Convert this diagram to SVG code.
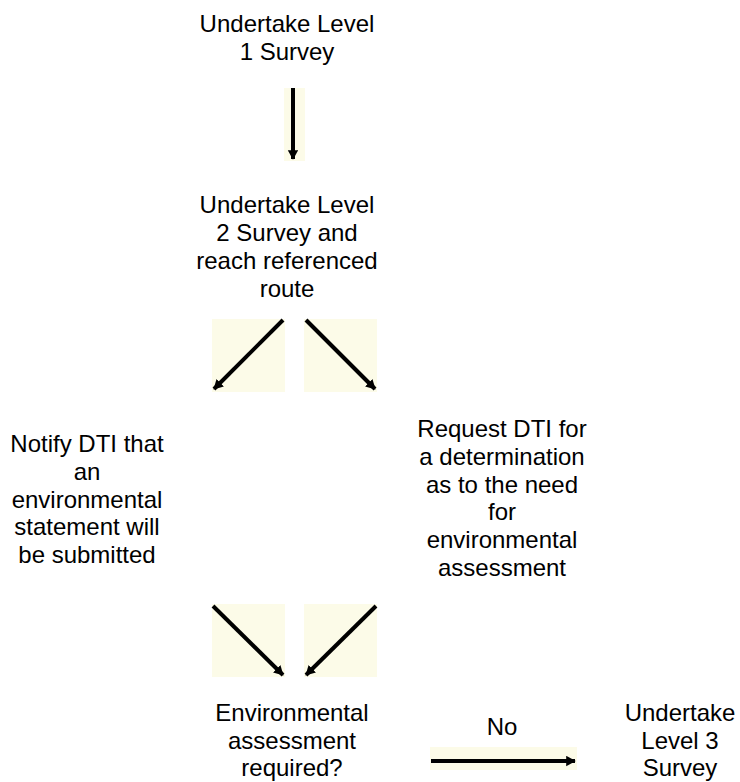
<svg xmlns="http://www.w3.org/2000/svg" width="740" height="782" viewBox="0 0 740 782">
<style>
text{font-family:"Liberation Sans",Arial,sans-serif;font-size:24px;fill:#000;text-anchor:middle}
.bg{fill:#fcfbe8}
.ar{stroke:#000;stroke-width:4;fill:none;marker-end:url(#ah)}
</style>
<defs>
<marker id="ah" markerWidth="3" markerHeight="3" refX="2.2" refY="1.3" orient="auto" markerUnits="strokeWidth">
<path d="M0,0 L2.4,1.3 L0,2.6 Z" fill="#000"/>
</marker>
</defs>
<rect width="740" height="782" fill="#fff"/>
<g id="n1"><text x="287" y="32">Undertake Level</text><text x="287" y="60">1 Survey</text></g>
<g id="n2"><text x="287" y="213">Undertake Level</text><text x="287" y="241">2 Survey and</text><text x="287" y="269">reach referenced</text><text x="287" y="297">route</text></g>
<g id="n3"><text x="87" y="452">Notify DTI that</text><text x="87" y="480">an</text><text x="87" y="508">environmental</text><text x="87" y="535">statement will</text><text x="87" y="563">be submitted</text></g>
<g id="n4"><text x="502" y="437">Request DTI for</text><text x="502" y="465">a determination</text><text x="502" y="493">as to the need</text><text x="502" y="520">for</text><text x="502" y="548">environmental</text><text x="502" y="576">assessment</text></g>
<g id="n5"><text x="292" y="721">Environmental</text><text x="292" y="748.5">assessment</text><text x="292" y="776">required?</text></g>
<g id="n6"><text x="680" y="721">Undertake</text><text x="680" y="748.5">Level 3</text><text x="680" y="776">Survey</text></g>
<g id="lbl"><text x="502" y="735">No</text></g>
<g id="connectors">
<rect class="bg" x="284" y="88" width="21" height="73"/>
<line class="ar" x1="293" y1="88" x2="293" y2="159"/>
<rect class="bg" x="212" y="319" width="73" height="73"/>
<line class="ar" x1="283" y1="320" x2="214" y2="389"/>
<rect class="bg" x="304" y="319" width="73" height="73"/>
<line class="ar" x1="306" y1="320" x2="375" y2="389"/>
<rect class="bg" x="212" y="604" width="73" height="73"/>
<line class="ar" x1="213" y1="606" x2="283" y2="675"/>
<rect class="bg" x="304" y="604" width="73" height="73"/>
<line class="ar" x1="376" y1="606" x2="306" y2="675"/>
<rect class="bg" x="430" y="747" width="147" height="23"/>
<line class="ar" x1="431" y1="761" x2="575" y2="761"/>
</g>
</svg>
